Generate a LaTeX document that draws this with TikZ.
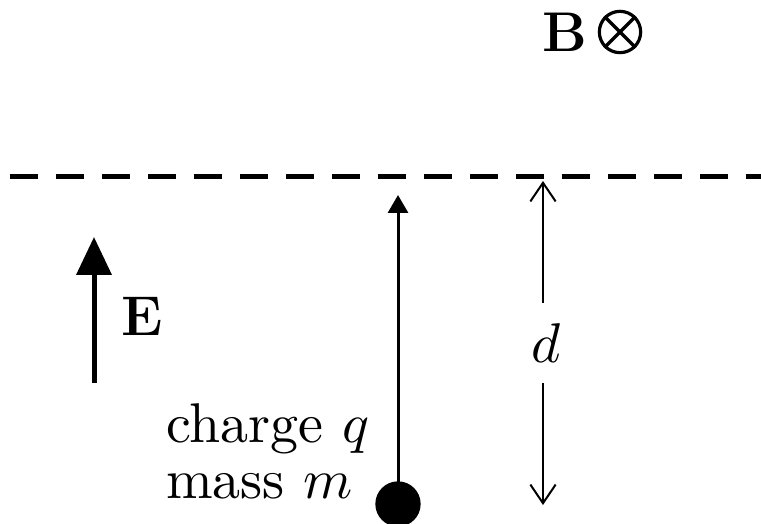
\RequirePackage{fix-cm}
\documentclass[tikz,border=0pt]{standalone}
\usetikzlibrary{arrows.meta}
\newcommand{\bigtxt}[1]{\scalebox{4.2}{\fontsize{10}{12}\selectfont #1}}
\newcommand{\bigbold}[1]{\scalebox{3.5}{\fontsize{12}{14}\selectfont\bfseries #1}}
\tikzset{
  lbl/.style={inner sep=0pt},
  dashline/.style={line width=3.75pt, dash pattern=on 21pt off 13.5pt},
  mainarrow/.style={line width=2.25pt, -{Triangle[length=13.5pt,width=15pt]}},
  earrow/.style={line width=3.75pt, -{Triangle[length=28.5pt,width=26pt]}},
  darrow/.style={line width=1.5pt, -{Straight Barb[length=14pt,width=19pt,line width=1.5pt]}},
}
\begin{document}
\begin{tikzpicture}[x=0.75pt,y=-0.75pt]
\useasboundingbox (0,0) rectangle (761,524);
% field B
\node[lbl, anchor=base west] (B) at (542,52) {\bigbold{B}};
\node[circle, draw, line width=2.4pt, minimum size=31pt, inner sep=0pt] (Bsym) at (620,32) {};
\draw[line width=2.4pt] (Bsym.45) -- (Bsym.225);
\draw[line width=2.4pt] (Bsym.135) -- (Bsym.315);
% dashed boundary
\coordinate (dl) at (10,177);
\coordinate (dr) at (761,177);
\draw[dashline] (dl) -- (dr);
% E field
\coordinate (Ebot) at (94,383);
\coordinate (Etop) at (94,237);
\draw[earrow] (Ebot) -- (Etop);
\node[lbl, anchor=base west] (E) at (121,335) {\bigbold{E}};
% charge
\node[circle, fill=black, minimum size=34pt, inner sep=0pt] (dot) at (398,504) {};
\coordinate (tip) at (398,195);
\draw[mainarrow] (dot.center) -- (tip);
\node[lbl, anchor=base west] (charge) at (166,442) {\bigtxt{charge $q$}};
\node[lbl, anchor=base west] (mass) at (166,498) {\bigtxt{mass $m$}};
% distance d
\node[lbl, anchor=base] (d) at (546,362) {\bigtxt{$d$}};
\coordinate (d1) at (543,303);
\coordinate (d1t) at (543,181);
\coordinate (d2) at (543,383);
\coordinate (d2t) at (543,505);
\draw[darrow] (d1) -- (d1t);
\draw[darrow] (d2) -- (d2t);
\end{tikzpicture}
\end{document}
